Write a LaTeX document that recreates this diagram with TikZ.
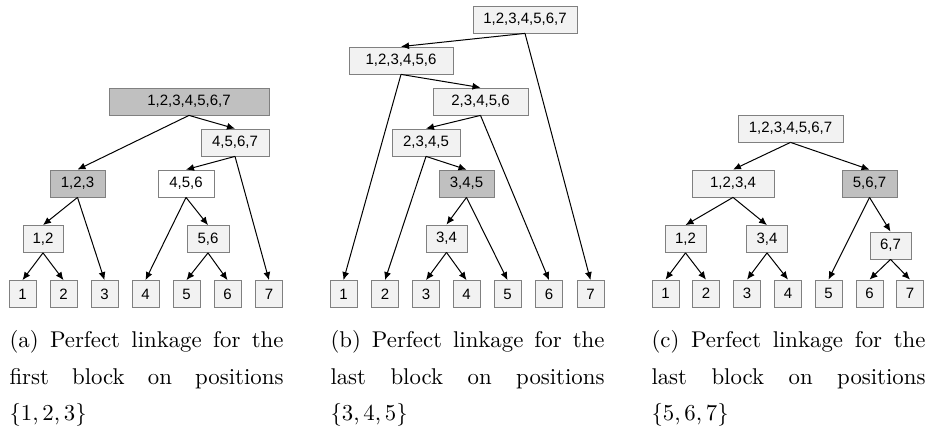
\RequirePackage{fix-cm}
\documentclass[tikz,border=0pt]{standalone}
\usepackage{fontspec}
\usepackage{xcolor}
\usepackage{tikz}
\usetikzlibrary{arrows.meta}
\newfontfamily\boxfont{Liberation Sans}
\newfontfamily\capfont{lmroman10-regular.otf}
\definecolor{lightbox}{HTML}{F2F2F2}
\definecolor{darkbox}{HTML}{C0C0C0}
\definecolor{boxline}{HTML}{808080}

\begin{document}
\begin{tikzpicture}[x=1pt, y=-1pt, ->, >={Latex[length=8pt,width=7pt]}, line width=1pt]
	\tikzstyle{blk}=[draw=boxline, line width=0.8pt, fill=lightbox, minimum height=27pt, inner sep=0pt, font=\boxfont\fontsize{15}{15}\selectfont]
	\tikzstyle{leaf}=[blk, minimum width=27pt]
	\tikzstyle{hit}=[fill=darkbox]
	\tikzstyle{caption}=[anchor=north west, inner sep=0pt, text width=274pt, align=justify, font=\capfont\fontsize{22.8}{36.5}\selectfont]

	\useasboundingbox (0,0) rectangle (925,428);

	% (a) first block
	\node[blk, hit, minimum width=160pt] (aR) at (189,101.5) {1,2,3,4,5,6,7};
	\node[blk, minimum width=68pt] (a4567) at (235,142.5) {4,5,6,7};
	\node[blk, hit, minimum width=55pt] (a123) at (77.5,183.5) {1,2,3};
	\node[blk, fill=white, minimum width=56pt] (a456) at (186,183.5) {4,5,6};
	\node[blk, minimum width=40pt] (a12) at (43,239) {1,2};
	\node[blk, minimum width=42pt] (a56) at (208,239) {5,6};
	\foreach \i/\x in {1/22.5,2/63.5,3/104.5,4/145.5,5/186.5,6/227.5,7/269}
		\node[leaf] (a\i) at (\x,294) {\i};

	\path (aR.south) edge (a123.north) edge (a4567.north);
	\path (a4567.south) edge (a456.north) edge (a7.north);
	\path (a123.south) edge (a12.north) edge (a3.north);
	\path (a12.south) edge (a1.north) edge (a2.north);
	\path (a456.south) edge (a4.north) edge (a56.north);
	\path (a56.south) edge (a5.north) edge (a6.north);

	% (b) last block 3,4,5
	\node[blk, minimum width=104pt] (bR) at (525,19.5) {1,2,3,4,5,6,7};
	\node[blk, minimum width=104pt] (b123456) at (401,60.5) {1,2,3,4,5,6};
	\node[blk, minimum width=95pt] (b23456) at (480.5,101.5) {2,3,4,5,6};
	\node[blk, minimum width=68pt] (b2345) at (426,142.5) {2,3,4,5};
	\node[blk, hit, minimum width=55pt] (b345) at (466.5,183.5) {3,4,5};
	\node[blk, minimum width=41pt] (b34) at (446.5,238.5) {3,4};
	\foreach \i/\x in {1/343.5,2/385,3/426,4/466.5,5/507.5,6/549,7/590.5}
		\node[leaf] (b\i) at (\x,294) {\i};

	\path (bR.south) edge (b123456.north) edge (b7.north);
	\path (b123456.south) edge (b1.north) edge (b23456.north);
	\path (b23456.south) edge (b2345.north) edge (b6.north);
	\path (b2345.south) edge (b2.north) edge (b345.north);
	\path (b345.south) edge (b34.north) edge (b5.north);
	\path (b34.south) edge (b3.north) edge (b4.north);

	% (c) last block 5,6,7
	\node[blk, minimum width=105pt] (cR) at (790.5,128.5) {1,2,3,4,5,6,7};
	\node[blk, minimum width=82pt] (c1234) at (733,183.5) {1,2,3,4};
	\node[blk, hit, minimum width=55pt] (c567) at (869.5,183.5) {5,6,7};
	\node[blk, minimum width=41pt] (c12) at (685.5,239) {1,2};
	\node[blk, minimum width=41pt] (c34) at (767,239) {3,4};
	\node[blk, minimum width=41pt] (c67) at (890.5,245.5) {6,7};
	\foreach \i/\x in {1/665.5,2/706,3/747,4/788,5/828.5,6/869.5,7/910}
		\node[leaf] (c\i) at (\x,293.5) {\i};

	\path (cR.south) edge (c1234.north) edge (c567.north);
	\path (c1234.south) edge (c12.north) edge (c34.north);
	\path (c567.south) edge (c5.north) edge (c67.north);
	\path (c12.south) edge (c1.north) edge (c2.north);
	\path (c34.south) edge (c3.north) edge (c4.north);
	\path (c67.south) edge (c6.north) edge (c7.north);

	% captions
	\node[caption] (capA) at (9,330) {(a) Perfect linkage for the\linebreak first block on positions\linebreak \{1,\,2,\,3\}};
	\node[caption] (capB) at (330,330) {(b) Perfect linkage for the\linebreak last block on positions\linebreak \{3,\,4,\,5\}};
	\node[caption] (capC) at (651,330) {(c) Perfect linkage for the\linebreak last block on positions\linebreak \{5,\,6,\,7\}};
\end{tikzpicture}
\end{document}
